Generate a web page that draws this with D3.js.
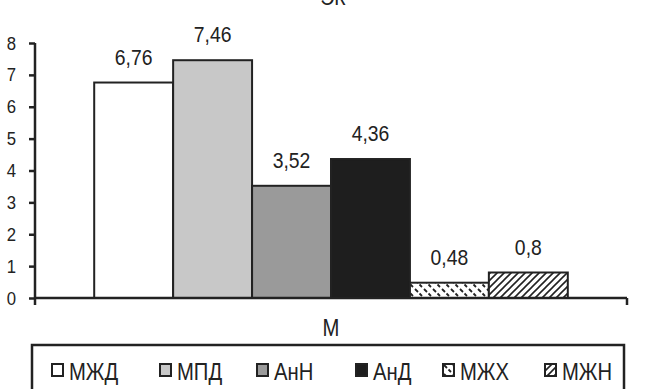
<!DOCTYPE html>
<html>
<head>
<meta charset="utf-8" />
<title>ЭК</title>
<style>
  body { margin: 0; background: #fff; }
  svg text { font-family: "Liberation Sans", Arial, sans-serif; fill: #222; }
</style>
</head>
<body>
<div id="chart"></div>
<script src="https://d3js.org/d3.v7.min.js"></script>
<script>
// data
var categories = ["М"];
var seriesNames = ["МЖД", "МПД", "АнН", "АнД", "МЖХ", "МЖН"];
var seriesValues = [6.76, 7.46, 3.52, 4.36, 0.48, 0.8];
var valueLabels = ["6,76", "7,46", "3,52", "4,36", "0,48", "0,8"];
var yTicks = [0, 1, 2, 3, 4, 5, 6, 7, 8];

var width = 664, height = 389;
var stroke = "#222";

var svg = d3.select("#chart").append("svg")
  .attr("width", width)
  .attr("height", height);

// narrow looking text: squeeze horizontally
function addText(parent, x, y, str, size, anchor) {
  return parent.append("text")
    .attr("transform", "translate(" + x + "," + y + ") scale(0.88,1)")
    .attr("text-anchor", anchor || "start")
    .style("font-size", size + "px")
    .text(str);
}

// hatched fills
var defs = svg.append("defs");
var p1 = defs.append("pattern").attr("id", "hatchBack")
  .attr("patternUnits", "userSpaceOnUse").attr("width", 9).attr("height", 9);
p1.append("rect").attr("width", 9).attr("height", 9).attr("fill", "#fff");
p1.append("path").attr("d", "M1,1 L4,4 M5.5,5.5 L8,8")
  .attr("stroke", stroke).attr("stroke-width", 1.8);
var p2 = defs.append("pattern").attr("id", "hatchFwd")
  .attr("patternUnits", "userSpaceOnUse").attr("width", 7).attr("height", 7);
p2.append("rect").attr("width", 7).attr("height", 7).attr("fill", "#fff");
p2.append("path").attr("d", "M-1,8 L8,-1 M-2,2 L2,-2 M5,9 L9,5")
  .attr("stroke", stroke).attr("stroke-width", 1.6);

var fills = ["#ffffff", "#c8c8c8", "#9a9a9a", "#1e1e1e", "url(#hatchBack)", "url(#hatchFwd)"];

var x0 = d3.scaleBand().domain(categories).range([35, 627]).paddingOuter(0.125).paddingInner(0);
var x1 = d3.scaleBand().domain(seriesNames).range([0, x0.bandwidth()]);
var y = d3.scaleLinear().domain([0, 8]).range([298, 43]);

// title (cropped at the top, as in the source)
addText(svg, 333, 5, "ЭК", 22, "middle");

// bars
var g = svg.append("g");
seriesNames.forEach(function(name, i) {
  var bx = x0(categories[0]) + x1(name);
  g.append("rect")
    .attr("x", bx)
    .attr("y", y(seriesValues[i]))
    .attr("width", x1.bandwidth())
    .attr("height", y(0) - y(seriesValues[i]))
    .attr("fill", fills[i])
    .attr("stroke", stroke)
    .attr("stroke-width", 2);
  addText(g, bx + x1.bandwidth() / 2, y(seriesValues[i]) - 18, valueLabels[i], 22, "middle");
});

// y axis
var yAxis = svg.append("g")
  .attr("transform", "translate(35,0)")
  .call(d3.axisLeft(y).tickValues(yTicks).tickSize(6).tickFormat(""));
yAxis.select(".domain").attr("stroke", stroke).attr("stroke-width", 2.5)
  .attr("d", "M0," + y(8) + "V" + y(0));
yAxis.selectAll(".tick line").attr("stroke", stroke).attr("stroke-width", 2.5);
yTicks.forEach(function(t) {
  addText(svg, 16, y(t) + 6.5, String(t), 19, "end");
});

// x axis
var xAxis = svg.append("g")
  .attr("transform", "translate(0," + y(0) + ")");
xAxis.append("line")
  .attr("x1", x0.range()[0]).attr("x2", x0.range()[1])
  .attr("stroke", stroke).attr("stroke-width", 2.5);
x0.range().forEach(function(xv) {
  xAxis.append("line")
    .attr("x1", xv).attr("x2", xv).attr("y1", 0).attr("y2", 7)
    .attr("stroke", stroke).attr("stroke-width", 2.5);
});
addText(svg, x0(categories[0]) + x0.bandwidth() / 2, 336, categories[0], 23, "middle");

// legend
svg.append("rect")
  .attr("x", 32).attr("y", 345)
  .attr("width", 592).attr("height", 60)
  .attr("fill", "none")
  .attr("stroke", stroke)
  .attr("stroke-width", 2.5);

var legendX = [52, 160, 257, 356, 443, 545];
seriesNames.forEach(function(name, i) {
  var lg = svg.append("g").attr("transform", "translate(" + legendX[i] + ",364)");
  lg.append("rect")
    .attr("width", 11).attr("height", 12)
    .attr("fill", fills[i])
    .attr("stroke", stroke)
    .attr("stroke-width", 2);
  addText(lg, 17, 16, name, 23, "start");
});
</script>
</body>
</html>
